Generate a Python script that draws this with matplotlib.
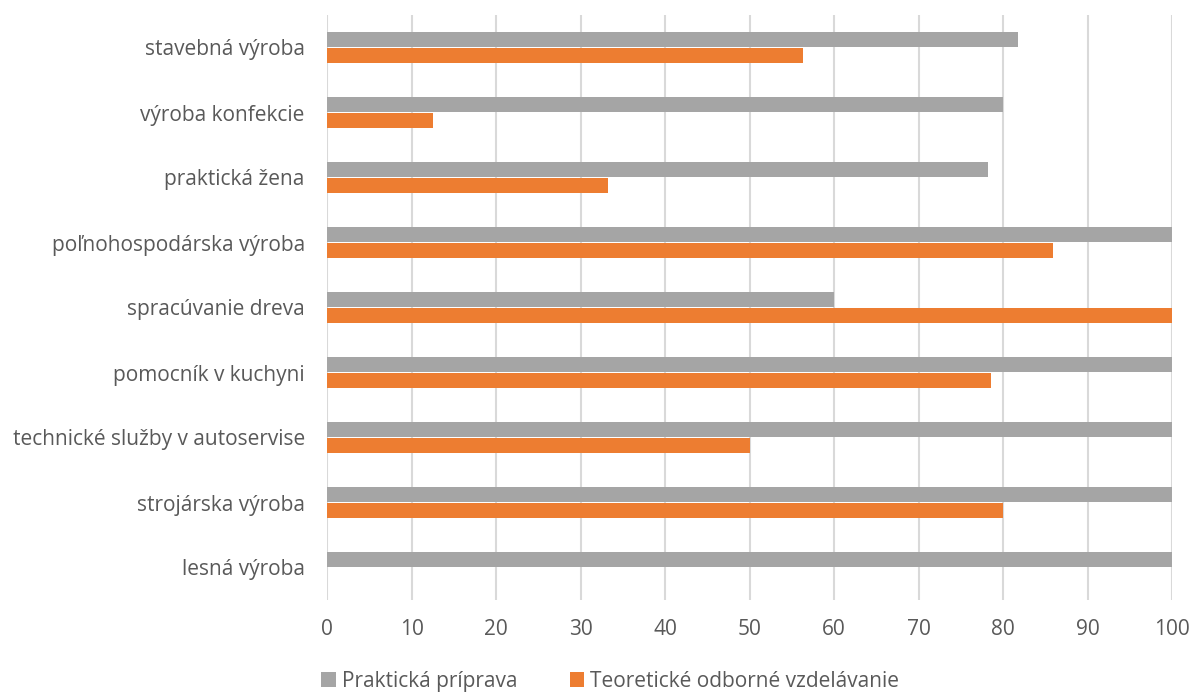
import matplotlib
matplotlib.use("Agg")
import matplotlib.pyplot as plt
import numpy as np

categories = ["lesná výroba", "strojárska výroba", "technické služby v autoservise",
              "pomocník v kuchyni", "spracúvanie dreva", "poľnohospodárska výroba",
              "praktická žena", "výroba konfekcie", "stavebná výroba"]
prakticka = [100, 100, 100, 100, 60, 100, 78.2, 80, 81.8]
teoreticke = [0, 80, 50, 78.6, 100, 85.9, 33.3, 12.5, 56.3]
series_names = ["Praktická príprava", "Teoretické odborné vzdelávanie"]
xticks = list(range(0, 101, 10))

plt.rcParams['font.family'] = ['Open Sans', 'DejaVu Sans']

fig = plt.figure(figsize=(11.92, 6.95), dpi=100)
ax = fig.add_axes([327/1192, 1 - 600/695, 845/1192, 585/695])

y = np.arange(len(categories))
h = 0.235
ax.barh(y + h/2 + 0.003, prakticka, height=h, color="#A5A5A5", label=series_names[0], zorder=3)
ax.barh(y - h/2 - 0.003, teoreticke, height=h, color="#ED7D31", label=series_names[1], zorder=3)

ax.set_xlim(0, 100)
ax.set_ylim(-0.5, len(categories) - 0.5)
ax.set_xticks(xticks)
ax.set_yticks(y)
ax.set_yticklabels(categories)
ax.grid(axis='x', color="#D9D9D9", linewidth=1.5, zorder=0)
for s in ax.spines.values():
    s.set_visible(False)
ax.tick_params(axis='both', length=0, labelsize=15, labelcolor="#595959")
ax.tick_params(axis='x', pad=14)
ax.tick_params(axis='y', pad=16)

fig.legend(loc='center', bbox_to_anchor=(0.512, 0.02), ncol=2, frameon=False,
           fontsize=15, labelcolor="#595959", handlelength=0.7, handleheight=0.7,
           handletextpad=0.3, columnspacing=2.5, borderpad=0.1)

fig.savefig("out.png", dpi=100)
